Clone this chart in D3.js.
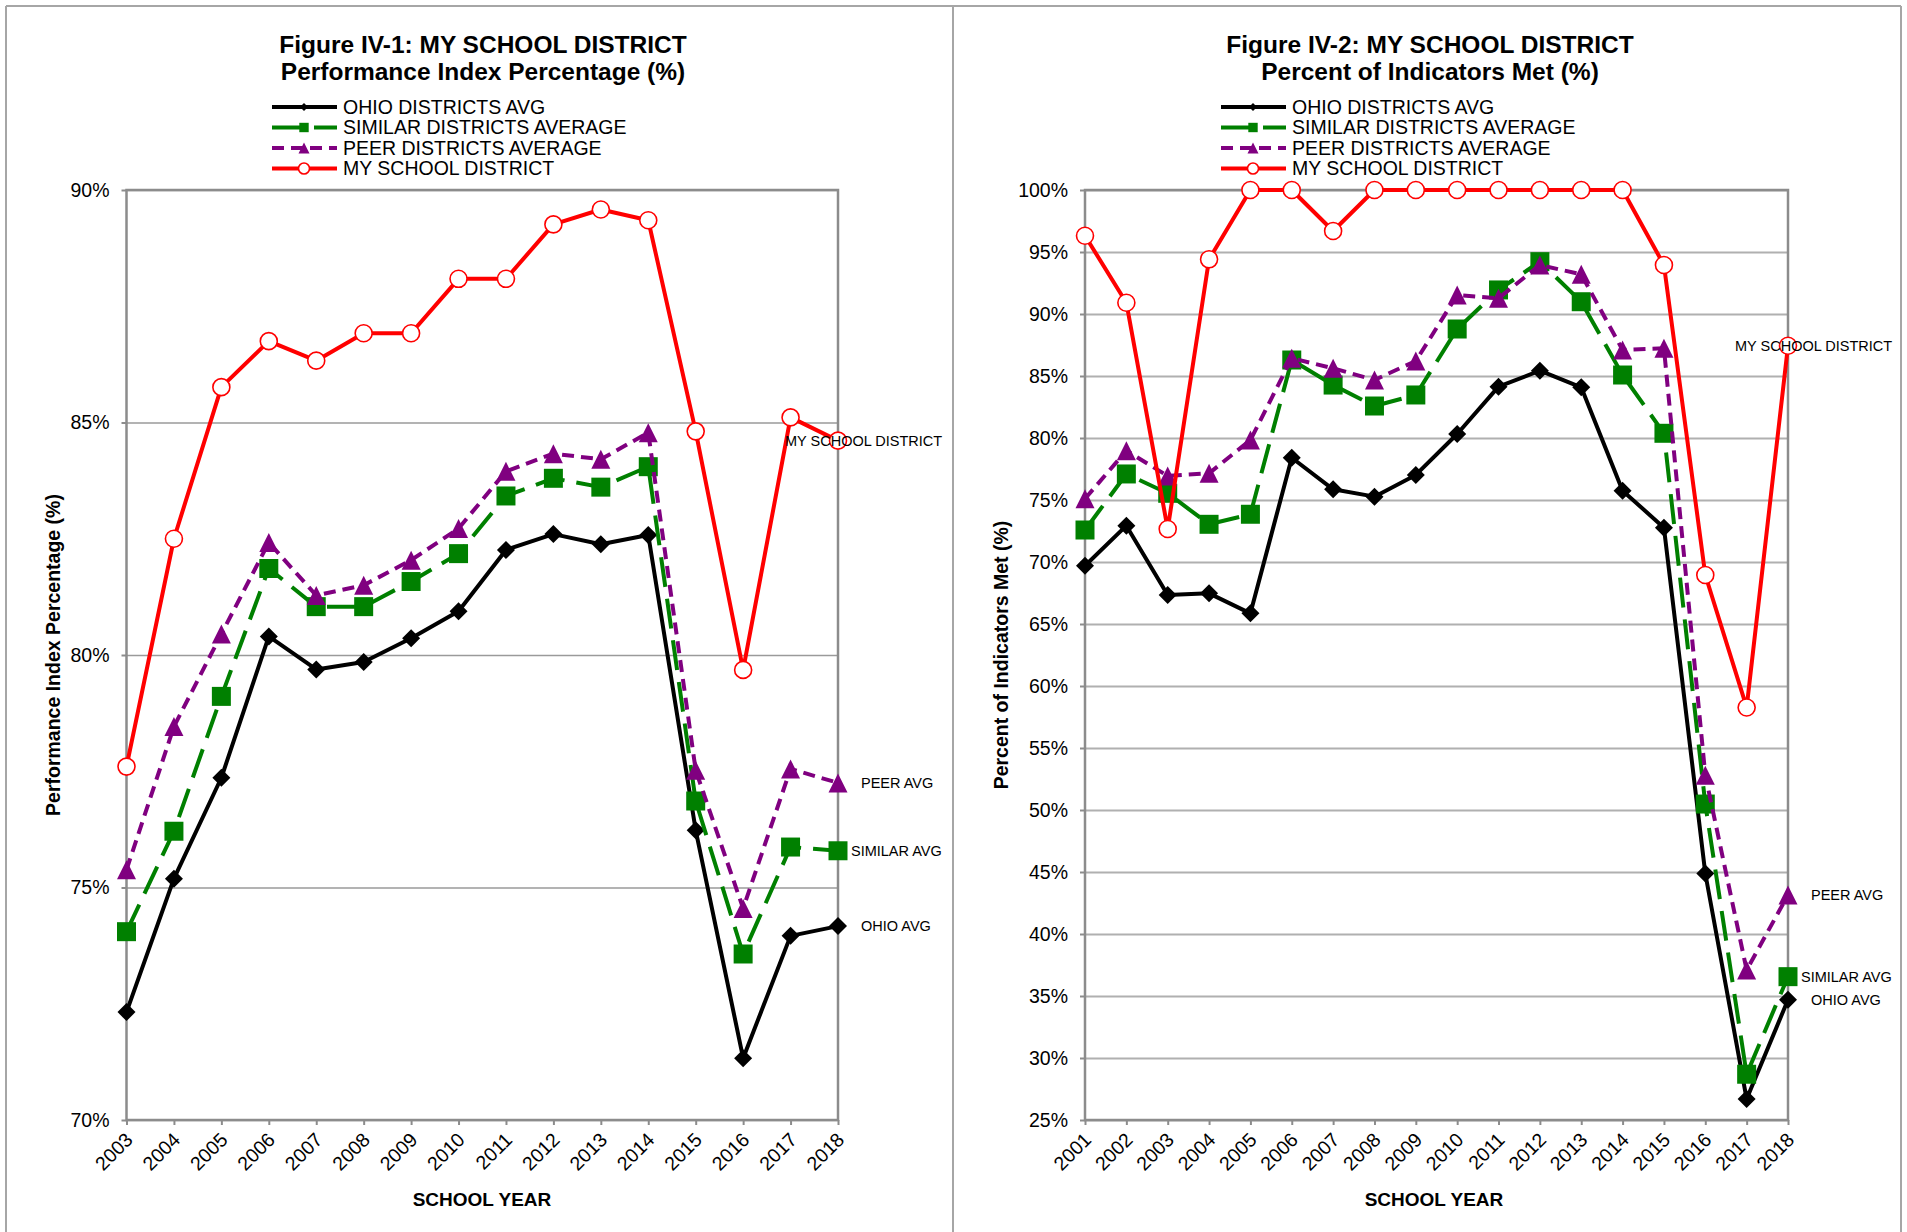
<!DOCTYPE html>
<html>
<head>
<meta charset="utf-8">
<script src="https://cdn.jsdelivr.net/npm/d3@7"></script>
<style>
  body { margin: 0; background: #fff; }
  svg { display: block; font-family: "Liberation Sans", Arial, sans-serif; }
</style>
</head>
<body>
<div id="chart"></div>
<script>
// Figure IV-1: Performance Index Percentage
const piYears = ["2003", "2004", "2005", "2006", "2007", "2008", "2009", "2010", "2011", "2012", "2013", "2014", "2015", "2016", "2017", "2018"];
const piOhio = [72.32, 75.19, 77.36, 80.40, 79.69, 79.85, 80.36, 80.94, 82.26, 82.60, 82.38, 82.58, 76.23, 71.33, 73.96, 74.17];
const piSimilar = [74.05, 76.21, 79.11, 81.86, 81.04, 81.04, 81.58, 82.18, 83.42, 83.80, 83.61, 84.05, 76.86, 73.57, 75.87, 75.79];
const piPeer = [75.38, 78.46, 80.45, 82.42, 81.28, 81.50, 82.04, 82.72, 83.95, 84.33, 84.21, 84.78, 77.52, 74.55, 77.55, 77.25];
const piMine = [77.60, 82.50, 85.76, 86.75, 86.33, 86.92, 86.92, 88.09, 88.09, 89.26, 89.58, 89.35, 84.81, 79.68, 85.11, 84.61];
const piTicks = [70, 75, 80, 85, 90];

// Figure IV-2: Percent of Indicators Met
const imYears = ["2001", "2002", "2003", "2004", "2005", "2006", "2007", "2008", "2009", "2010", "2011", "2012", "2013", "2014", "2015", "2016", "2017", "2018"];
const imOhio = [69.70, 72.93, 67.34, 67.47, 65.86, 78.41, 75.86, 75.27, 77.02, 80.32, 84.14, 85.43, 84.09, 75.75, 72.77, 44.88, 26.69, 34.70];
const imSimilar = [72.58, 77.10, 75.54, 73.04, 73.85, 86.29, 84.27, 82.58, 83.47, 88.79, 91.94, 94.22, 90.99, 85.08, 80.38, 50.48, 28.69, 36.56];
const imPeer = [75.10, 78.98, 76.94, 77.15, 79.84, 86.43, 85.62, 84.68, 86.21, 91.53, 91.27, 93.95, 93.20, 87.10, 87.23, 52.81, 37.10, 43.15];
const imMine = [96.31, 90.91, 72.66, 94.41, 100, 100, 96.69, 100, 100, 100, 100, 100, 100, 100, 93.95, 68.95, 58.27, 87.44];
const imTicks = [25, 30, 35, 40, 45, 50, 55, 60, 65, 70, 75, 80, 85, 90, 95, 100];

const seriesNames = ["OHIO DISTRICTS AVG", "SIMILAR DISTRICTS AVERAGE", "PEER DISTRICTS AVERAGE", "MY SCHOOL DISTRICT"];
const endLabels = ["OHIO AVG", "SIMILAR AVG", "PEER AVG", "MY SCHOOL DISTRICT"];

const font = '"Liberation Sans", Arial, sans-serif';

// line / marker look per series (same order as seriesNames)
const styles = [
  { color: "#000000", dash: null, marker: "diamond", size: 9, lsize: 4, labelDx: 23 },
  { color: "#008000", dash: "30,12", marker: "square", size: 9.5, lsize: 4.7, labelDx: 13 },
  { color: "#800080", dash: "12,7", marker: "triangle", size: 9.5, lsize: 5.5, labelDx: 23 },
  { color: "#ff0000", dash: null, marker: "circle", size: 8.5, lsize: 5.5, labelDx: -53 }
];

const svg = d3
  .select("#chart")
  .append("svg")
  .attr("width", 1907)
  .attr("height", 1232);

// outer frame with divider
const frame = svg.append("g").attr("stroke", "#a6a6a6").attr("stroke-width", 2);
frame.append("line").attr("x1", 6).attr("x2", 1901).attr("y1", 6).attr("y2", 6);
[6, 953, 1901].forEach((fx) => {
  frame.append("line").attr("x1", fx).attr("x2", fx).attr("y1", 6).attr("y2", 1232);
});

function markerPath(type, s) {
  if (type === "diamond") return `M0,${-s}L${s},0L0,${s}L${-s},0Z`;
  if (type === "square") return `M${-s},${-s}H${s}V${s}H${-s}Z`;
  if (type === "triangle") return `M0,${-s}L${s},${s}L${-s},${s}Z`;
  return null;
}

function addMarker(sel, type, size) {
  if (type === "circle") {
    return sel.append("circle").attr("r", size).attr("fill", "#fff").attr("stroke", "#ff0000").attr("stroke-width", 1.6);
  }
  return sel.append("path").attr("d", markerPath(type, size));
}

function drawChart(cfg) {
  const width = cfg.right - cfg.left;
  const height = cfg.bottom - cfg.top;
  const g = svg.append("g").attr("transform", `translate(${cfg.left},${cfg.top})`);

  const x = d3.scalePoint().domain(cfg.years).range([0, width]);
  const y = d3.scaleLinear().domain([cfg.ticks[0], cfg.ticks[cfg.ticks.length - 1]]).range([height, 0]);

  // gridlines
  const grid = g.append("g").call(d3.axisLeft(y).tickValues(cfg.ticks).tickSize(-width).tickFormat(""));
  grid.select(".domain").remove();
  grid.selectAll("line").attr("stroke", cfg.gridColor).attr("stroke-width", cfg.gridWidth);

  // plot border
  g.append("rect")
    .attr("width", width)
    .attr("height", height)
    .attr("fill", "none")
    .attr("stroke", "#8c8c8c")
    .attr("stroke-width", 2.5);

  // y axis
  const gy = g.append("g").call(d3.axisLeft(y).tickValues(cfg.ticks).tickSize(5).tickPadding(12).tickFormat((d) => d + "%"));
  gy.attr("font-family", font).attr("font-size", 19.5);
  gy.select(".domain").remove();
  gy.selectAll("line").attr("stroke", "#8c8c8c").attr("stroke-width", 2);
  gy.selectAll("text").attr("fill", "#000");

  // x axis
  const gx = g
    .append("g")
    .attr("transform", `translate(0,${height})`)
    .call(d3.axisBottom(x).tickSize(5).tickSizeOuter(0));
  gx.attr("font-family", font).attr("font-size", 19.5);
  gx.select(".domain").remove();
  gx.selectAll("line").attr("stroke", "#8c8c8c").attr("stroke-width", 2);
  gx.selectAll("text")
    .attr("fill", "#000")
    .attr("x", 0)
    .attr("y", 0)
    .attr("dy", 0)
    .attr("text-anchor", "end")
    .attr("transform", "translate(7,21) rotate(-45)");

  // axis titles
  g.append("text")
    .attr("transform", `translate(${cfg.yTitleX - cfg.left},${height / 2}) rotate(-90)`)
    .attr("text-anchor", "middle")
    .attr("font-weight", "bold")
    .attr("font-size", 19.5)
    .text(cfg.yTitle);

  g.append("text")
    .attr("x", cfg.xTitleX - cfg.left)
    .attr("y", 1206 - cfg.top)
    .attr("text-anchor", "middle")
    .attr("font-weight", "bold")
    .attr("font-size", 19)
    .text("SCHOOL YEAR");

  // series
  const line = d3
    .line()
    .x((d, i) => x(cfg.years[i]))
    .y((d) => y(d));

  cfg.series.forEach((values, si) => {
    const st = styles[si];
    g.append("path")
      .datum(values)
      .attr("d", line)
      .attr("fill", "none")
      .attr("stroke", st.color)
      .attr("stroke-width", 4)
      .attr("stroke-dasharray", st.dash)
      .attr("stroke-linejoin", "round");

    const m = g
      .selectAll(`.m${si}`)
      .data(values)
      .join("g")
      .attr("class", `m${si}`)
      .attr("transform", (d, i) => `translate(${x(cfg.years[i])},${y(d)})`);
    addMarker(m, st.marker, st.size).attr("fill", st.marker === "circle" ? "#fff" : st.color);
  });

  // end-of-line labels
  cfg.series.forEach((values, si) => {
    const last = values[values.length - 1];
    g.append("text")
      .attr("x", width + styles[si].labelDx)
      .attr("y", y(last))
      .attr("dy", "0.35em")
      .attr("font-size", 14.5)
      .text(endLabels[si]);
  });

  // titles
  svg.append("text")
    .attr("x", cfg.titleX)
    .attr("y", 53)
    .attr("text-anchor", "middle")
    .attr("font-weight", "bold")
    .attr("font-size", 24.5)
    .text(cfg.title1);
  svg.append("text")
    .attr("x", cfg.titleX)
    .attr("y", 80)
    .attr("text-anchor", "middle")
    .attr("font-weight", "bold")
    .attr("font-size", 24.5)
    .text(cfg.title2);

  // legend
  const legendRows = [107, 127.5, 148, 168.5];
  seriesNames.forEach((name, si) => {
    const st = styles[si];
    const lg = svg.append("g").attr("transform", `translate(${cfg.legendX},${legendRows[si]})`);
    lg.append("line")
      .attr("x1", 0)
      .attr("x2", 65)
      .attr("stroke", st.color)
      .attr("stroke-width", 4)
      .attr("stroke-dasharray", st.dash);
    const lm = lg.append("g").attr("transform", "translate(32,0)");
    addMarker(lm, st.marker, st.lsize).attr("fill", st.marker === "circle" ? "#fff" : st.color);
    lg.append("text")
      .attr("x", 71)
      .attr("dy", "0.35em")
      .attr("font-size", 19.5)
      .text(name);
  });
}

drawChart({
  years: piYears,
  series: [piOhio, piSimilar, piPeer, piMine],
  ticks: piTicks,
  left: 126.5, right: 838, top: 190, bottom: 1120,
  gridColor: "#9a9a9a", gridWidth: 1.5,
  title1: "Figure IV-1: MY SCHOOL DISTRICT",
  title2: "Performance Index Percentage (%)",
  titleX: 483,
  legendX: 272,
  yTitle: "Performance Index Percentage (%)",
  yTitleX: 60,
  xTitleX: 482
});

drawChart({
  years: imYears,
  series: [imOhio, imSimilar, imPeer, imMine],
  ticks: imTicks,
  left: 1085, right: 1788, top: 190, bottom: 1120,
  gridColor: "#b0b0b0", gridWidth: 2,
  title1: "Figure IV-2: MY SCHOOL DISTRICT",
  title2: "Percent of Indicators Met (%)",
  titleX: 1430,
  legendX: 1221,
  yTitle: "Percent of Indicators Met (%)",
  yTitleX: 1008,
  xTitleX: 1434
});
</script>
</body>
</html>
